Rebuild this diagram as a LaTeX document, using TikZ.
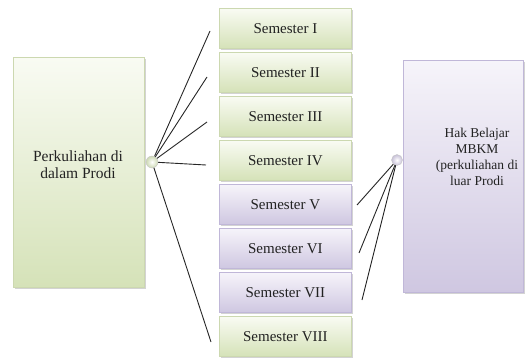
\documentclass[tikz,border=0pt]{standalone}
\usepackage{fontspec}
\setmainfont{Liberation Serif}
\usetikzlibrary{shadows}
\definecolor{gtop}{HTML}{F9FBF3}
\definecolor{gbot}{HTML}{D5E2B8}
\definecolor{gline}{HTML}{CCD8B0}
\definecolor{ptop}{HTML}{F6F4FA}
\definecolor{pbot}{HTML}{CFC7E1}
\definecolor{pline}{HTML}{C0B7D8}
\definecolor{txt}{HTML}{222222}
\tikzset{
  boxbase/.style={rectangle, inner sep=0pt, line width=0.8pt, text=txt,
    drop shadow={shadow xshift=1.2pt, shadow yshift=-1.6pt, opacity=0.35, fill=gray}},
  greenbox/.style={boxbase, draw=gline, top color=gtop, bottom color=gbot},
  purplebox/.style={boxbase, draw=pline, top color=ptop, bottom color=pbot},
  semG/.style={greenbox, minimum width=132pt, minimum height=40pt, anchor=north west, font=\fontsize{15}{17}\selectfont},
  semP/.style={purplebox, minimum width=132pt, minimum height=40pt, anchor=north west, font=\fontsize{15}{17}\selectfont},
  ballG/.style={circle, minimum size=12pt, inner sep=0pt, draw=gray!45, inner color=white, outer color=gbot!90!gray},
  ballP/.style={circle, minimum size=11pt, inner sep=0pt, draw=gray!45, inner color=white, outer color=pbot!90!gray},
  conn/.style={draw=black!85, line width=0.9pt},
  bigtext/.style={align=center, text=txt}
}
\begin{document}
\begin{tikzpicture}[x=1pt,y=-1pt]
\useasboundingbox (0,0) rectangle (526,358);
% left big box
\node[greenbox, anchor=north west, minimum width=131pt, minimum height=230pt] (L) at (13,57) {};
\node[bigtext, font=\fontsize{15.5}{17}\selectfont] (Lt) at (78,165) {Perkuliahan di\\dalam Prodi};
% right big box
\node[purplebox, anchor=north west, minimum width=120pt, minimum height=232pt] (R) at (403,60) {};
\node[bigtext, font=\fontsize{13.5}{16}\selectfont] (Rt) at (477,157) {Hak Belajar\\MBKM\\(perkuliahan di\\luar Prodi};
% semester boxes
\node[semG] (s1) at (219,8)   {Semester I};
\node[semG] (s2) at (219,52)  {Semester II};
\node[semG] (s3) at (219,96)  {Semester III};
\node[semG] (s4) at (219,140) {Semester IV};
\node[semP] (s5) at (219,184) {Semester V};
\node[semP] (s6) at (219,228) {Semester VI};
\node[semP] (s7) at (219,272) {Semester VII};
\node[semG] (s8) at (219,316) {Semester VIII};
% connector hubs and free ends
\coordinate (cl) at (152,162);
\coordinate (cr) at (397,160);
\coordinate (e1) at (210,31);
\coordinate (e2) at (207,77);
\coordinate (e3) at (207,122);
\coordinate (e4) at (206,165);
\coordinate (e8) at (211,342);
\coordinate (f5) at (357,205);
\coordinate (f6) at (359,253);
\coordinate (f7) at (362,300);
\draw[conn] (cl) -- (e1);
\draw[conn] (cl) -- (e2);
\draw[conn] (cl) -- (e3);
\draw[conn] (cl) -- (e4);
\draw[conn] (cl) -- (e8);
\draw[conn] (cr) -- (f5);
\draw[conn] (cr) -- (f6);
\draw[conn] (cr) -- (f7);
\node[ballG] (bl) at (cl) {};
\node[ballP] (br) at (cr) {};
\end{tikzpicture}
\end{document}
